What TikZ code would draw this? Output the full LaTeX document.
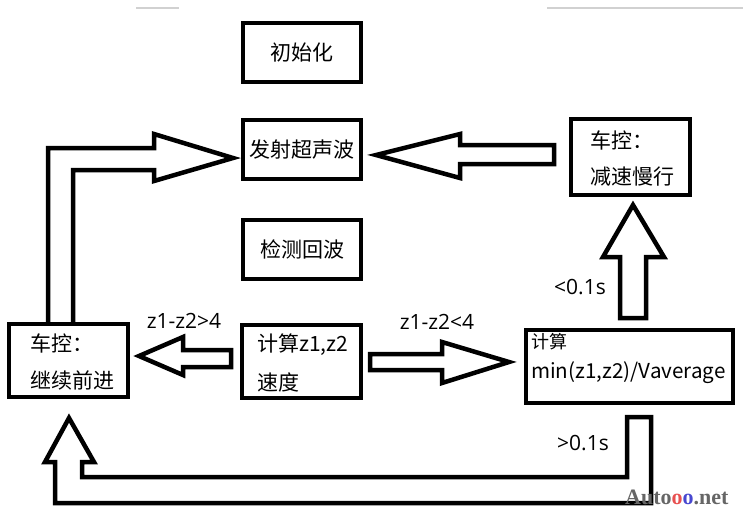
\documentclass[tikz,border=0pt]{standalone}
\usepackage{fontspec}
\setmainfont{Noto Sans CJK SC}
\newfontfamily\wmfont{Liberation Serif}
\newfontfamily\lblfont{Open Sans}
\usetikzlibrary{calc}
\begin{document}
\begin{tikzpicture}[x=1pt,y=-1pt,
  box/.style={draw=black,line width=4.5pt,minimum width=118pt,minimum height=59pt,inner sep=0pt,font=\fontsize{21}{25}\selectfont},
  txt/.style={anchor=west,inner sep=0pt,font=\fontsize{21}{25}\selectfont},
  lbl/.style={inner sep=0pt,font=\lblfont\fontsize{21}{24}\selectfont},
  barrow/.style={draw=black,line width=4.5pt,line join=miter,miter limit=10},
  faint/.style={draw=black!18,line width=1.5pt}]
\useasboundingbox (0,0) rectangle (743,523);
% faint top lines
\coordinate (g1a) at (136,8); \coordinate (g1b) at (179,8);
\coordinate (g2a) at (547,8); \coordinate (g2b) at (743,8);
\draw[faint] (g1a) -- (g1b);
\draw[faint] (g2a) -- (g2b);
% boxes
\node[box] (init) at (302,52.5) {初始化};
\node[box] (emit) at (302,149.5) {发射超声波};
\node[box] (detect) at (302,249.5) {检测回波};
\node[box,minimum width=119pt,minimum height=76pt] (slow) at (630.5,157) {};
\node[box,minimum width=119pt,minimum height=73pt] (cont) at (68.5,360.5) {};
\node[box,minimum width=119pt,minimum height=73pt] (calc) at (301.5,361.5) {};
\node[box,minimum width=207pt,minimum height=73pt] (minb) at (629.5,366.5) {};
% texts in boxes
\node[txt] (slow1) at (590,140) {车控：};
\node[txt] (slow2) at (590,177) {减速慢行};
\node[txt] (cont1) at (30,343) {车控：};
\node[txt] (cont2) at (30,380) {继续前进};
\node[txt] (calc1) at (257,345) {计算z1,z2};
\node[txt] (calc2) at (257,382) {速度};
\node[txt,font=\fontsize{18}{22}\selectfont] (min1) at (531,342) {计算};
\node[txt,font=\fontsize{20.6}{24}\selectfont] (min2) at (531,373) {min(z1,z2)/Vaverage};
% block arrows
% slow -> emit
\draw[barrow] (554,145) -- (460,145) -- (460,134) -- (376,155) -- (460,178) -- (460,164) -- (554,164) -- cycle;
% cont -> emit (L-shaped)
\draw[barrow] (48,324) -- (48,148) -- (154,148) -- (154,134) -- (233,158) -- (154,181) -- (154,170) -- (73,170) -- (73,324);
% calc -> cont
\draw[barrow] (231,350) -- (183,350) -- (183,337) -- (139,356) -- (183,375) -- (183,367) -- (231,367) -- cycle;
% calc -> minb
\draw[barrow] (370,354) -- (442,354) -- (442,342) -- (509,362) -- (442,383) -- (442,370) -- (370,370) -- cycle;
% minb -> slow
\draw[barrow] (620,318) -- (620,257) -- (603,257) -- (633,205) -- (664,257) -- (646,257) -- (646,318) -- cycle;
% minb -> cont (U-shaped)
\draw[barrow] (627,417) -- (651,417) -- (651,503) -- (55,503) -- (55,462) -- (45,462) -- (69,418) -- (94,462) -- (82,462) -- (82,477) -- (627,477) -- cycle;
% labels
\node[lbl] (l1) at (184,321) {z1-z2>4};
\node[lbl] (l2) at (437,322) {z1-z2<4};
\node[lbl] (l3) at (580,287) {<0.1s};
\node[lbl] (l4) at (583,443) {>0.1s};
% watermark
\node[anchor=west,inner sep=0pt,font=\wmfont\bfseries\fontsize{22}{24}\selectfont,text=black!60] (wm) at (625,497)
  {Auto\textcolor[HTML]{E85050}{o}\textcolor[HTML]{4848D0}{o}.net};
\end{tikzpicture}
\end{document}
